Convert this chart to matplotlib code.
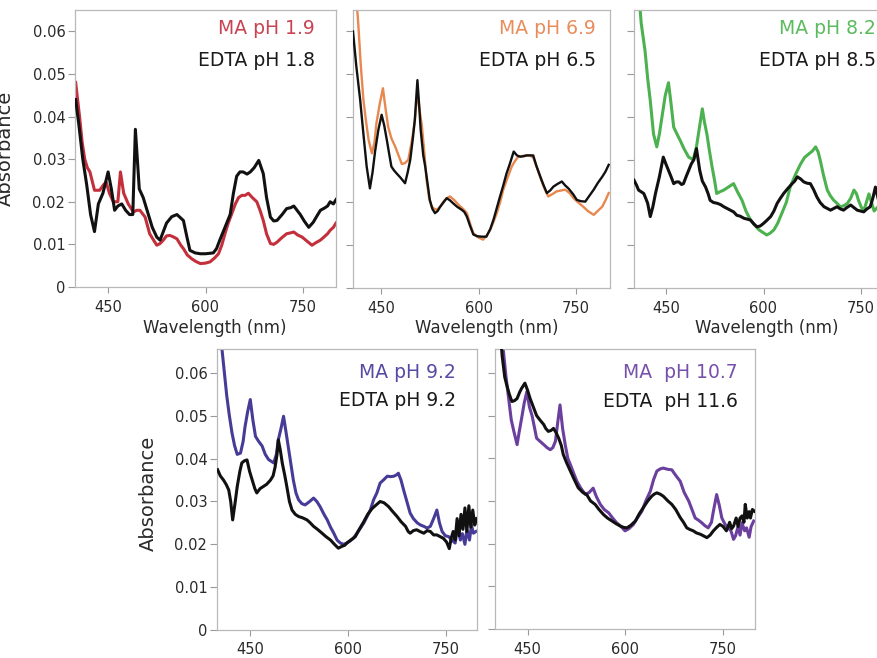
import matplotlib
matplotlib.use("Agg")
import matplotlib.pyplot as plt

# ---------------- data ----------------
wl_edta_18 = [400, 405, 411, 417, 423, 429, 435, 442, 450, 455, 460, 465, 471, 477, 483, 488, 492, 498, 504, 512,
              518, 525, 530, 535, 540, 548, 556, 566, 571, 576, 584, 592, 600, 606, 612, 617, 622, 630, 638, 643,
              648, 653, 658, 664, 669, 675, 682, 689, 694, 700, 705, 710, 718, 725, 731, 736, 741, 746, 752, 759,
              766, 771, 777, 783, 788, 792, 797, 801]
abs_edta_18 = [0.044, 0.038, 0.030, 0.024, 0.017, 0.013, 0.0195, 0.022, 0.027, 0.023, 0.018, 0.019, 0.0195, 0.018,
               0.017, 0.017, 0.037, 0.023, 0.021, 0.017, 0.014, 0.0117, 0.011, 0.013, 0.015, 0.0165, 0.017, 0.0156,
               0.012, 0.0086, 0.008, 0.0078, 0.0078, 0.0079, 0.008, 0.009, 0.011, 0.014, 0.017, 0.022, 0.026, 0.027,
               0.027, 0.0265, 0.027, 0.028, 0.0297, 0.0266, 0.021, 0.0164, 0.0155, 0.0156, 0.017, 0.0184, 0.0186,
               0.019, 0.018, 0.017, 0.0155, 0.014, 0.0152, 0.0165, 0.018, 0.0185, 0.019, 0.020, 0.0195, 0.0205]

wl_ma_19 = [400, 406, 410, 414, 418, 422, 429, 437, 443, 447, 452, 458, 465, 469, 474, 481, 489, 494, 499, 507,
            514, 520, 525, 530, 535, 540, 545, 550, 556, 562, 566, 572, 579, 585, 592, 600, 607, 614, 620, 625,
            630, 635, 640, 646, 651, 656, 661, 666, 672, 679, 684, 689, 694, 700, 705, 710, 717, 725, 731, 736,
            742, 749, 756, 764, 770, 777, 783, 788, 792, 797, 801]
abs_ma_19 = [0.048, 0.040, 0.034, 0.030, 0.028, 0.027, 0.0227, 0.0227, 0.024, 0.0246, 0.022, 0.020, 0.020, 0.027,
             0.022, 0.0195, 0.0176, 0.018, 0.018, 0.0164, 0.0125, 0.011, 0.0098, 0.0102, 0.011, 0.012, 0.0121,
             0.0118, 0.0113, 0.0098, 0.009, 0.0075, 0.0066, 0.006, 0.0055, 0.0056, 0.0059, 0.0068, 0.0078, 0.0098,
             0.0125, 0.015, 0.017, 0.0195, 0.021, 0.0215, 0.0215, 0.022, 0.021, 0.020, 0.018, 0.0156, 0.0125,
             0.0102, 0.010, 0.0105, 0.0115, 0.0125, 0.0127, 0.0129, 0.0122, 0.0117, 0.0108, 0.0098, 0.0104, 0.011,
             0.0118, 0.0125, 0.0133, 0.014, 0.015]

wl_edta_65 = [407, 412, 418, 423, 428, 433, 437, 441, 446, 451, 455, 459, 463, 466, 470, 474, 480, 487, 491, 495,
              499, 502, 506, 509, 511, 515, 518, 522, 525, 529, 533, 537, 541, 546, 551, 556, 561, 567, 574, 578,
              582, 587, 592, 598, 605, 612, 618, 623, 628, 633, 638, 643, 648, 654, 659, 664, 669, 674, 679, 684,
              689, 695, 700, 705, 710, 715, 721, 728, 733, 738, 745, 751, 757, 764, 770, 777, 783, 790, 795, 800]
abs_edta_65 = [0.060, 0.052, 0.044, 0.036, 0.0284, 0.0233, 0.027, 0.032, 0.037, 0.0405, 0.038, 0.0346, 0.031,
               0.0284, 0.0275, 0.0268, 0.0258, 0.0245, 0.027, 0.030, 0.035, 0.0393, 0.0486, 0.042, 0.037, 0.031,
               0.0284, 0.024, 0.0206, 0.0185, 0.0175, 0.018, 0.019, 0.020, 0.021, 0.0205, 0.0198, 0.019, 0.0183,
               0.0178, 0.0167, 0.0145, 0.0125, 0.0121, 0.012, 0.012, 0.0138, 0.016, 0.0187, 0.0214, 0.024, 0.0268,
               0.029, 0.0319, 0.031, 0.0307, 0.0308, 0.031, 0.031, 0.031, 0.0285, 0.026, 0.024, 0.0222, 0.0228,
               0.0237, 0.0243, 0.0249, 0.024, 0.0233, 0.022, 0.0206, 0.0203, 0.0202, 0.0215, 0.023, 0.0245, 0.026,
               0.0272, 0.0288]

wl_ma_69 = [412, 415, 419, 423, 427, 431, 436, 440, 443, 448, 453, 457, 461, 466, 472, 477, 482, 487, 492, 497,
            502, 506, 509, 513, 517, 520, 524, 528, 532, 536, 541, 546, 551, 556, 563, 569, 576, 582, 587, 592,
            600, 607, 612, 618, 623, 628, 633, 638, 645, 651, 656, 661, 668, 674, 679, 684, 690, 697, 702, 707,
            714, 720, 727, 733, 740, 746, 753, 761, 768, 777, 783, 790, 795, 800]
abs_ma_69 = [0.068, 0.062, 0.052, 0.044, 0.039, 0.0346, 0.0315, 0.034, 0.0385, 0.043, 0.0467, 0.042, 0.0377, 0.035,
             0.033, 0.031, 0.029, 0.0292, 0.030, 0.034, 0.039, 0.046, 0.042, 0.0377, 0.031, 0.0253, 0.021, 0.019,
             0.0185, 0.0183, 0.019, 0.0202, 0.021, 0.0214, 0.0205, 0.0195, 0.0185, 0.0175, 0.015, 0.0128, 0.0118,
             0.0113, 0.0122, 0.0136, 0.0155, 0.0175, 0.020, 0.023, 0.026, 0.0284, 0.0297, 0.0307, 0.0309, 0.031,
             0.031, 0.0305, 0.028, 0.0249, 0.023, 0.0214, 0.022, 0.0226, 0.0228, 0.023, 0.0222, 0.021, 0.020, 0.019,
             0.018, 0.0171, 0.018, 0.019, 0.0205, 0.0222]

wl_ma_82 = [409, 412, 418, 422, 426, 431, 436, 440, 444, 449, 454, 458, 462, 467, 472, 478, 485, 492, 497, 500,
            506, 509, 513, 517, 521, 525, 528, 533, 539, 546, 554, 560, 567, 573, 580, 586, 593, 599, 605, 610,
            616, 622, 628, 635, 641, 649, 657, 663, 670, 675, 680, 684, 687, 692, 698, 703, 708, 713, 718, 723,
            729, 734, 739, 743, 746, 750, 754, 758, 762, 766, 770, 776, 782, 790, 798]
abs_ma_82 = [0.068, 0.062, 0.0554, 0.049, 0.0438, 0.036, 0.033, 0.036, 0.040, 0.045, 0.048, 0.043, 0.0376, 0.036,
             0.0345, 0.0325, 0.0306, 0.030, 0.033, 0.036, 0.0419, 0.039, 0.036, 0.032, 0.0283, 0.025, 0.0221,
             0.0225, 0.0229, 0.0236, 0.0244, 0.0225, 0.0205, 0.018, 0.0159, 0.0148, 0.0136, 0.013, 0.0124, 0.0128,
             0.0136, 0.0152, 0.0174, 0.020, 0.0236, 0.0265, 0.029, 0.0305, 0.0314, 0.032, 0.033, 0.0318, 0.030,
             0.0265, 0.0229, 0.0215, 0.0205, 0.0198, 0.019, 0.0192, 0.0198, 0.021, 0.0229, 0.022, 0.0205, 0.019,
             0.018, 0.020, 0.022, 0.020, 0.018, 0.019, 0.0195, 0.019, 0.0192]

wl_edta_85 = [401, 405, 408, 412, 416, 419, 422, 426, 430, 434, 440, 446, 450, 454, 458, 462, 466, 470, 474, 477,
              481, 485, 489, 493, 497, 502, 506, 511, 515, 518, 523, 529, 534, 539, 544, 549, 554, 559, 564, 570,
              575, 580, 585, 590, 595, 600, 605, 611, 616, 621, 626, 631, 637, 644, 648, 652, 657, 662, 667, 672,
              677, 682, 687, 693, 698, 703, 708, 713, 718, 723, 728, 734, 739, 744, 749, 754, 759, 764, 768, 772,
              776, 781, 787, 793, 798]
abs_edta_85 = [0.0252, 0.024, 0.0229, 0.0225, 0.0221, 0.021, 0.0198, 0.0167, 0.019, 0.0221, 0.026, 0.0306, 0.029,
               0.0275, 0.026, 0.0244, 0.0248, 0.0248, 0.0242, 0.0244, 0.026, 0.0275, 0.029, 0.030, 0.0326, 0.0275,
               0.025, 0.0236, 0.022, 0.0205, 0.020, 0.0198, 0.0195, 0.019, 0.0186, 0.0182, 0.0178, 0.017, 0.0168,
               0.0163, 0.0161, 0.0159, 0.015, 0.0143, 0.0145, 0.0151, 0.0158, 0.0167, 0.018, 0.0198, 0.021, 0.0221,
               0.0232, 0.0244, 0.025, 0.026, 0.0255, 0.0248, 0.0245, 0.0244, 0.023, 0.0213, 0.020, 0.019, 0.0186,
               0.0182, 0.0186, 0.019, 0.0185, 0.0182, 0.0188, 0.0194, 0.0188, 0.0182, 0.018, 0.0178, 0.0185, 0.019,
               0.021, 0.0236, 0.021, 0.0195, 0.0185, 0.019, 0.0188]

wl_ma_92 = [405, 407, 414, 418, 422, 426, 430, 435, 439, 442, 446, 450, 454, 458, 463, 468, 473, 478, 486, 490,
            493, 497, 501, 505, 509, 513, 516, 520, 524, 529, 534, 541, 547, 552, 557, 563, 568, 573, 578, 583,
            588, 593, 598, 603, 608, 613, 619, 624, 629, 634, 639, 644, 649, 654, 660, 665, 670, 674, 677, 681,
            685, 690, 695, 700, 706, 711, 716, 721, 726, 731, 736, 740, 744, 749, 754, 759, 764, 768, 772, 775,
            779, 782, 786, 789, 792, 796]
abs_ma_92 = [0.068, 0.065, 0.0546, 0.050, 0.046, 0.043, 0.041, 0.0413, 0.044, 0.0475, 0.051, 0.0538, 0.049, 0.0452,
             0.044, 0.043, 0.041, 0.0398, 0.039, 0.041, 0.0444, 0.047, 0.0499, 0.046, 0.042, 0.038, 0.035, 0.032,
             0.0304, 0.0295, 0.0292, 0.030, 0.0308, 0.030, 0.0288, 0.027, 0.0257, 0.024, 0.0226, 0.021, 0.0203,
             0.020, 0.0203, 0.0208, 0.0214, 0.0225, 0.0238, 0.025, 0.0265, 0.028, 0.0304, 0.032, 0.0343, 0.035,
             0.0359, 0.0358, 0.0359, 0.0362, 0.0366, 0.035, 0.0327, 0.030, 0.0273, 0.026, 0.025, 0.0245, 0.0242,
             0.0238, 0.0242, 0.026, 0.028, 0.025, 0.023, 0.022, 0.0218, 0.021, 0.0203, 0.024, 0.021, 0.0225, 0.020,
             0.0234, 0.021, 0.0245, 0.0226, 0.023]

wl_edta_92 = [400, 404, 409, 413, 417, 420, 423, 427, 430, 434, 437, 441, 445, 449, 453, 457, 460, 465, 470, 475,
              481, 485, 488, 491, 493, 496, 499, 503, 506, 510, 514, 519, 524, 530, 537, 542, 547, 553, 560, 566,
              573, 579, 585, 590, 595, 598, 604, 611, 617, 624, 630, 637, 643, 649, 655, 662, 668, 675, 681, 688,
              692, 695, 700, 705, 710, 716, 721, 726, 731, 736, 741, 746, 751, 755, 758, 761, 764, 767, 770, 773,
              776, 779, 782, 785, 788, 791, 794, 797]
abs_edta_92 = [0.0374, 0.036, 0.035, 0.034, 0.0327, 0.030, 0.0257, 0.030, 0.0335, 0.037, 0.039, 0.0395, 0.0397,
               0.037, 0.035, 0.033, 0.032, 0.033, 0.0335, 0.034, 0.035, 0.036, 0.038, 0.041, 0.0444, 0.042, 0.039,
               0.036, 0.0335, 0.030, 0.028, 0.027, 0.0265, 0.0262, 0.0257, 0.025, 0.0242, 0.0235, 0.0226, 0.0218,
               0.021, 0.020, 0.0191, 0.0195, 0.0198, 0.0203, 0.021, 0.0218, 0.0235, 0.0253, 0.027, 0.0284, 0.0292,
               0.030, 0.0297, 0.0288, 0.0277, 0.0265, 0.0253, 0.0242, 0.023, 0.0226, 0.0232, 0.0234, 0.023, 0.0226,
               0.0232, 0.023, 0.0222, 0.0222, 0.0218, 0.0214, 0.0205, 0.019, 0.0215, 0.023, 0.021, 0.026, 0.022,
               0.027, 0.0235, 0.0285, 0.023, 0.029, 0.024, 0.028, 0.0245, 0.026]

wl_ma_107 = [411, 413, 417, 421, 425, 429, 434, 437, 441, 445, 449, 453, 457, 461, 464, 469, 475, 480, 485, 489,
             493, 497, 500, 504, 508, 512, 516, 521, 526, 532, 539, 545, 551, 556, 562, 568, 575, 581, 587, 594,
             600, 606, 613, 619, 626, 632, 639, 644, 649, 654, 659, 666, 672, 678, 685, 691, 698, 703, 708, 713,
             718, 723, 728, 733, 736, 741, 745, 749, 754, 759, 763, 767, 770, 774, 777, 780, 784, 787, 791, 794, 798]
abs_ma_107 = [0.068, 0.065, 0.059, 0.054, 0.049, 0.0463, 0.0432, 0.046, 0.0494, 0.053, 0.0556, 0.052, 0.050, 0.047,
              0.0447, 0.044, 0.0432, 0.0425, 0.042, 0.0425, 0.044, 0.049, 0.0525, 0.047, 0.0432, 0.040, 0.0385,
              0.0365, 0.0346, 0.033, 0.0315, 0.032, 0.033, 0.031, 0.0292, 0.028, 0.0272, 0.026, 0.0249, 0.024,
              0.023, 0.0235, 0.0245, 0.026, 0.0276, 0.030, 0.0323, 0.035, 0.037, 0.0375, 0.0377, 0.0374, 0.0373,
              0.036, 0.0346, 0.032, 0.030, 0.028, 0.026, 0.0255, 0.0249, 0.0242, 0.0237, 0.025, 0.0276, 0.0315,
              0.029, 0.026, 0.0245, 0.0237, 0.023, 0.021, 0.0218, 0.024, 0.022, 0.0249, 0.023, 0.0237, 0.0215,
              0.024, 0.0253]

wl_edta_116 = [409, 411, 415, 418, 422, 426, 430, 434, 438, 441, 446, 450, 454, 459, 464, 469, 475, 478, 482, 486,
               490, 494, 498, 502, 505, 510, 516, 522, 528, 535, 541, 547, 554, 560, 567, 573, 580, 586, 593, 598,
               603, 609, 616, 622, 628, 635, 641, 645, 649, 654, 659, 666, 672, 678, 685, 690, 695, 700, 705, 710,
               716, 721, 726, 731, 736, 741, 746, 751, 756, 761, 764, 767, 771, 774, 777, 780, 783, 785, 788, 791,
               793, 796, 799]
abs_edta_116 = [0.068, 0.064, 0.059, 0.0572, 0.055, 0.0533, 0.0535, 0.054, 0.0555, 0.0564, 0.0576, 0.056, 0.054,
                0.052, 0.050, 0.049, 0.0479, 0.047, 0.0463, 0.0465, 0.047, 0.046, 0.0447, 0.043, 0.0409, 0.039,
                0.037, 0.035, 0.0331, 0.032, 0.0315, 0.030, 0.0292, 0.028, 0.0268, 0.026, 0.0253, 0.0247, 0.0241,
                0.0238, 0.0237, 0.0243, 0.0253, 0.027, 0.0284, 0.030, 0.0311, 0.0316, 0.0319, 0.0316, 0.0311, 0.030,
                0.0292, 0.028, 0.0261, 0.025, 0.0237, 0.0233, 0.023, 0.0225, 0.0222, 0.0218, 0.0214, 0.022, 0.023,
                0.0238, 0.0245, 0.024, 0.023, 0.025, 0.0235, 0.0241, 0.026, 0.024, 0.026, 0.0265, 0.025, 0.0292,
                0.026, 0.0275, 0.026, 0.028, 0.0276]

ma_labels = ["MA pH 1.9", "MA pH 6.9", "MA pH 8.2", "MA pH 9.2", "MA  pH 10.7"]
edta_labels = ["EDTA pH 1.8", "EDTA pH 6.5", "EDTA pH 8.5", "EDTA pH 9.2", "EDTA  pH 11.6"]
x_ticks = [450, 600, 750]
y_ticks = [0, 0.01, 0.02, 0.03, 0.04, 0.05, 0.06]
y_tick_labels = ["0", "0.01", "0.02", "0.03", "0.04", "0.05", "0.06"]

# ---------------- styling / layout ----------------
plt.rcParams["font.family"] = ["DejaVu Sans"]
W, H = 877, 658
fig = plt.figure(figsize=(W / 100, H / 100), dpi=100)
fig.patch.set_facecolor("white")

ma_colors = ["#c3303c", "#e8874e", "#4cb14f", "#463c98", "#6a3f9e"]
ma_text_colors = ["#c84352", "#e98c5c", "#5cbb5f", "#554aa4", "#7650ab"]

panels = [
    dict(box=(75, 10, 336, 287), xlim=(399, 801), ylim=(0, 0.065), ylab=True, lw=2.2,
         ma=(wl_ma_19, abs_ma_19), edta=(wl_edta_18, abs_edta_18), tx=315, ty=(28, 60)),
    dict(box=(353, 10, 610, 288), xlim=(407, 802), ylim=(0, 0.065), ylab=False, lw=1.7,
         ma=(wl_ma_69, abs_ma_69), edta=(wl_edta_65, abs_edta_65), tx=596, ty=(28, 60)),
    dict(box=(634, 10, 893, 288), xlim=(401, 799), ylim=(0, 0.065), ylab=False, lw=2.2,
         ma=(wl_ma_82, abs_ma_82), edta=(wl_edta_85, abs_edta_85), tx=876, ty=(28, 60)),
    dict(box=(217, 349, 477, 630), xlim=(399, 797.5), ylim=(0, 0.0656), ylab=True, lw=2.2,
         ma=(wl_ma_92, abs_ma_92), edta=(wl_edta_92, abs_edta_92), tx=456, ty=(372, 401)),
    dict(box=(495, 349, 755, 629), xlim=(400, 800), ylim=(0, 0.0656), ylab=False, lw=2.2,
         ma=(wl_ma_107, abs_ma_107), edta=(wl_edta_116, abs_edta_116), tx=738, ty=(373, 402)),
]

for i, p in enumerate(panels):
    x0, y0, x1, y1 = p["box"]
    ax = fig.add_axes([x0 / W, 1 - y1 / H, (x1 - x0) / W, (y1 - y0) / H])
    ax.plot(p["edta"][0], p["edta"][1], color="#111111", lw=p["lw"], solid_joinstyle="round", zorder=3)
    ax.plot(p["ma"][0], p["ma"][1], color=ma_colors[i], lw=p["lw"], solid_joinstyle="round", zorder=2)
    ax.set_xlim(*p["xlim"])
    ax.set_ylim(*p["ylim"])
    ax.set_xticks(x_ticks)
    ax.set_xticklabels([str(t) for t in x_ticks])
    ax.set_yticks(y_ticks)
    if p["ylab"]:
        ax.set_yticklabels(y_tick_labels)
    else:
        ax.set_yticklabels([])
    for s in ax.spines.values():
        s.set_color("#b8b8b8")
        s.set_linewidth(0.9)
    ax.tick_params(axis="x", direction="out", length=4, width=0.8, color="#9a9a9a",
                   labelcolor="#2a2a2a", labelsize=10.5, pad=5)
    ax.tick_params(axis="y", direction="out", length=5, width=0.8, color="#9a9a9a",
                   labelcolor="#2a2a2a", labelsize=10.5, pad=2)
    fig.text(p["tx"] / W, 1 - p["ty"][0] / H, ma_labels[i], color=ma_text_colors[i],
             fontsize=13.5, ha="right", va="center")
    fig.text(p["tx"] / W, 1 - p["ty"][1] / H, edta_labels[i], color="#1a1a1a",
             fontsize=13.5, ha="right", va="center")

# x labels of the top row (the bottom row's labels are cut off by the picture edge)
for xc in (215, 487, 767):
    fig.text(xc / W, 1 - 328 / H, "Wavelength (nm)", fontsize=12, color="#2a2a2a",
             ha="center", va="center")

# y labels (the first one sits at the left edge of the picture, as in the reference)
fig.text(5 / W, 1 - 148 / H, "Absorbance", fontsize=14, color="#2a2a2a",
         rotation=90, ha="center", va="center")
fig.text(148 / W, 1 - 493 / H, "Absorbance", fontsize=14, color="#2a2a2a",
         rotation=90, ha="center", va="center")

fig.savefig("out.png", dpi=100, facecolor="white")
